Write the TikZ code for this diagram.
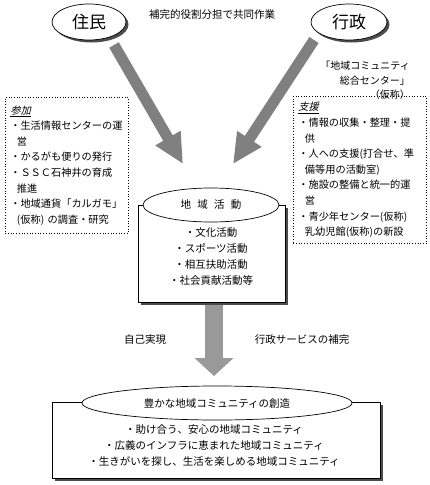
\documentclass[tikz,border=0pt]{standalone}
\usepackage{fontspec}
\setmainfont{Noto Sans CJK JP}
\newfontfamily\jpslant{Noto Sans CJK JP}[FakeSlant=0.25]
\usetikzlibrary{arrows.meta,shadows,shapes.geometric}
\definecolor{arrowgray}{HTML}{808080}
\definecolor{downgray}{HTML}{999999}
\newcommand{\ci}{\hspace*{0.65em}}
\begin{document}
\begin{tikzpicture}[x=1pt,y=-1pt,
  txt/.style={font=\fontsize{10.5}{15.6}\selectfont, inner sep=0pt},
  oval/.style={ellipse, draw, fill=white, line width=0.7pt, inner sep=0pt},
  shadowed/.style={drop shadow={shadow xshift=2.5pt, shadow yshift=-2.5pt, fill=black!70, opacity=1}},
  dotbox/.style={draw, dotted, line width=0.7pt, align=left, anchor=north west,
     inner xsep=5pt, inner ysep=6pt, font=\fontsize{10.2}{15.6}\selectfont},
  solidbox/.style={draw, fill=white, line width=0.7pt, anchor=north west, inner sep=0pt, shadowed},
  bigarrow/.style={draw=arrowgray, line width=11pt,
     -{Triangle[length=30pt,width=27pt,fill=arrowgray]}},
  downarrow/.style={draw=downgray, line width=18pt,
     -{Triangle[length=18pt,width=38pt,fill=downgray]}}]
\useasboundingbox[fill=white] (0,0) rectangle (430,485);

% top ellipses
\node[oval, shadowed, minimum width=74pt, minimum height=36pt,
      font=\fontsize{17}{20}\selectfont] (jumin) at (89,22) {住民};
\node[oval, shadowed, minimum width=76pt, minimum height=36pt,
      font=\fontsize{17}{20}\selectfont] (gyosei) at (349,22) {行政};
\node[txt] (kyodo) at (212,15) {補完的役割分担で共同作業};
\node[txt, align=right, anchor=north east, font=\fontsize{10}{14.5}\selectfont]
   (center) at (410,61) {「地域コミュニティ\\総合センター」\\（仮称）};

% dotted boxes
\node[dotbox, text width=113pt, minimum height=136pt] (sanka) at (5,97)
 {{\jpslant\underline{参加}}\\
  ・生活情報センターの運\\
  \ci 営\\
  ・かるがも便りの発行\\
  ・ＳＳＣ石神井の育成\\
  \ci 推進\\
  ・地域通貨「カルガモ」\\
  \ci\mbox{(仮称)\ の調査・研究}};
\node[dotbox, text width=123pt, minimum height=147pt] (shien) at (293,96)
 {{\jpslant\underline{支援}}\\
  ・情報の収集・整理・提\\
  \ci 供\\
  ・人への支援(打合せ、準\\
  \ci 備等用の活動室)\\
  ・施設の整備と統一的運\\
  \ci 営\\
  ・青少年センター(仮称)\\
  \ci 乳幼児館(仮称)の新設};

% cylinder
\node[solidbox, minimum width=147pt, minimum height=97pt] (cyl) at (138,205) {};
\node[txt, align=center, font=\fontsize{10.5}{16}\selectfont] (cylitems) at (211,257)
  {・文化活動\\・スポーツ活動\\・相互扶助活動\\・社会貢献活動等};
\node[oval, minimum width=136pt, minimum height=34pt, font=\fontsize{10.5}{12}\selectfont]
  (cyltop) at (211,205) {地\hspace{0.6em}域\hspace{0.6em}活\hspace{0.6em}動};

% arrows into cylinder
\coordinate (a1s) at (114,45);
\coordinate (a1e) at (183,164);
\coordinate (a2s) at (314,40);
\coordinate (a2e) at (233,164);
\draw[bigarrow] (a1s) -- (a1e);
\draw[bigarrow] (a2s) -- (a2e);

% down arrow
\coordinate (d1) at (214,305);
\coordinate (d2) at (214,376);
\draw[downarrow] (d1) -- (d2);
\node[txt] (jiko) at (145,340) {自己実現};
\node[txt] (hokan) at (302,340) {行政サービスの補完};

% bottom box
\node[solidbox, minimum width=328pt, minimum height=76pt] (bottom) at (52,402) {};
\node[txt, align=center, font=\fontsize{10.5}{16}\selectfont] (botitems) at (214,446)
  {・助け合う、安心の地域コミュニティ\\
   ・広義のインフラに恵まれた地域コミュニティ\\
   ・生きがいを探し、生活を楽しめる地域コミュニティ};
\node[oval, minimum width=270pt, minimum height=34pt, font=\fontsize{10.5}{12}\selectfont]
  (bottop) at (217,403) {豊かな地域コミュニティの創造};
\end{tikzpicture}
\end{document}
